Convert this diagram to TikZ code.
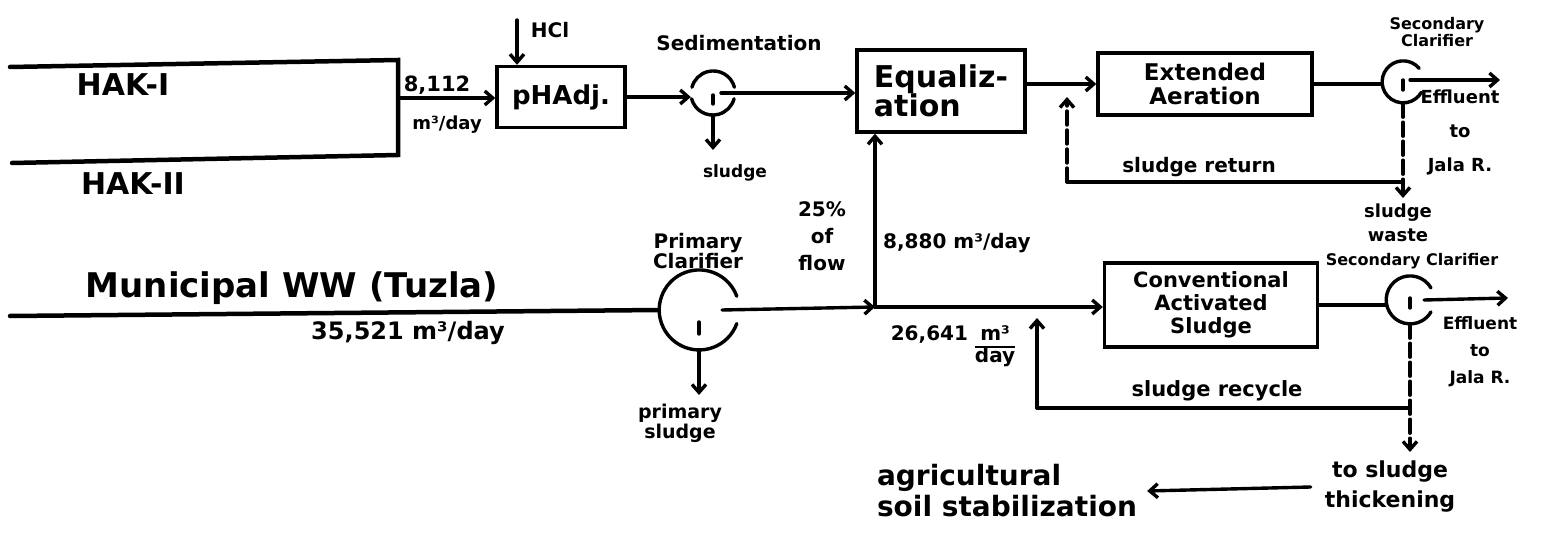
\documentclass[tikz,border=0pt]{standalone}
\usepackage{fontspec}
\setmainfont{DejaVu Sans}
\usetikzlibrary{arrows.meta,calc}
\setlength{\arrayrulewidth}{1.6pt}
\begin{document}
\begin{tikzpicture}[x=1pt,y=-1pt,
  every node/.style={inner sep=0pt},
  flow/.style={line width=3.4pt, line cap=round},
  heavy/.style={line width=4.5pt, line cap=round},
  arr/.style={-{Straight Barb[length=8pt,width=14pt]}},
  brk/.style={dash pattern=on 14pt off 5pt},
  unit/.style={draw, line width=3.4pt, align=center},
  clar/.style={circle, minimum size=#1, inner sep=0pt},
  fs/.style={font=\bfseries\fontsize{#1}{#1}\selectfont, align=center},
]
\fill[white] (0,0) rectangle (1547,537);
\useasboundingbox (0,0) rectangle (1547,537);

% ---------- units ----------
\node[unit, minimum width=128pt, minimum height=61pt, fs=26] (ph) at (561,97) {pHAdj.};
\node[clar=44pt] (sed) at (713,93) {};
\node[unit, minimum width=168pt, minimum height=82pt, fs=30, align=left] (eq) at (941,91) {Equaliz-\\[-1pt]ation};
\node[unit, minimum width=214pt, minimum height=62pt, fs=23] (ea) at (1205,84) {Extended\\[1pt]Aeration};
\node[clar=42pt] (sc1) at (1403,82) {};
\node[clar=80pt] (pc) at (699,310) {};
\node[unit, minimum width=213pt, minimum height=84pt, fs=21] (cas) at (1211,305) {Conventional\\[2pt]Activated\\[2pt]Sludge};
\node[clar=48pt] (sc2) at (1410,300) {};

% ---------- labels ----------
\node[fs=30] (hak1) at (123,85) {HAK-I};
\node[fs=30] (hak2) at (133,184) {HAK-II};
\node[fs=21] (q1) at (437,85) {8,112};
\node[fs=18] (q1u) at (447,125) {m³/day};
\node[fs=20] (hclT) at (550,30) {HCl};
\node[fs=20] (sedT) at (739,43) {Sedimentation};
\node[fs=17] (sl1) at (735,173) {sludge};
\node[fs=16] (sc1T) at (1437,32) {Secondary\\[1pt]Clarifier};
\node[fs=18] (ef1) at (1460,132) {Effluent\\[16pt]to\\[16pt]Jala R.};
\node[fs=20] (srT) at (1199,167) {sludge return};
\node[fs=34] (mun) at (292,288) {Municipal WW (Tuzla)};
\node[fs=24] (mq) at (408,333) {35,521 m³/day};
\node[fs=20] (pcT) at (698,251) {Primary\\Clarifier};
\node[fs=20] (pct) at (822,236) {25\%\\[7pt]of\\[7pt]flow};
\node[fs=20, anchor=west] (q2) at (883,243) {8,880 m³/day};
\node[fs=20] (q3) at (953,347) {26,641 \begin{tabular}[t]{@{}c@{}}m³\\\hline day\end{tabular}};
\node[fs=18] (swT) at (1398,223) {sludge\\[6pt]waste};
\node[fs=16] (sc2T) at (1412,261) {Secondary Clarifier};
\node[fs=17] (ef2) at (1480,352) {Effluent\\[10pt]to\\[10pt]Jala R.};
\node[fs=21] (srcT) at (1217,391) {sludge recycle};
\node[fs=22] (thk) at (1390,487) {to sludge\\[8pt]thickening};
\node[fs=28, align=left] (agri) at (1007,491) {agricultural\\[3pt]soil stabilization};
\node[fs=19] (psl) at (680,423) {primary\\[1pt]sludge};

% ---------- coordinates ----------
\coordinate (h1a) at (10,67);
\coordinate (h1b) at (398,60);
\coordinate (h2a) at (12,163);
\coordinate (h2b) at (398,155);
\coordinate (hb) at (398,98);
\coordinate (hcl) at (517,20);
\coordinate (sedx) at (721,93);
\coordinate (sedd) at (713,150);
\coordinate (e1s) at (1410,80);
\coordinate (eff1) at (1500,80);
\coordinate (sw1) at (1403,198);
\coordinate (sr1) at (1403,182);
\coordinate (sr2) at (1067,182);
\coordinate (sr3) at (1067,97);
\coordinate (m0) at (10,316);
\coordinate (pcx) at (722,310);
\coordinate (jn) at (875,307);
\coordinate (e2s) at (1424,300);
\coordinate (eff2) at (1508,298);
\coordinate (sr4) at (1410,408);
\coordinate (sr5) at (1037,408);
\coordinate (sr6) at (1037,318);
\coordinate (sw2) at (1410,452);
\coordinate (psa) at (699,395);

% ---------- upper train ----------
\draw[heavy] (h1a) -- (h1b) -- (h2b) -- (h2a);
\draw[flow,arr] (hb) -- (hb -| ph.west);
\draw[flow,arr] (hcl) -- (hcl |- ph.north);
\draw[flow,arr] (ph.east) -- (ph.east -| sed.west);
\draw[flow] (sed.15) arc[start angle=15,end angle=165,radius=22pt];
\draw[flow] (sed.195) arc[start angle=195,end angle=345,radius=22pt];
\draw[flow] ([yshift=-2pt]sed.center) -- ([yshift=-11pt]sed.center);
\draw[flow,arr] (sedx) -- (sedx -| eq.west);
\draw[flow,arr] (sed.south) -- (sedd);
\draw[flow,arr] (eq.east |- ea.west) -- (ea.west);
\draw[flow] (ea.east) -- (ea.east -| sc1.west);
\draw[flow] (sc1.40) arc[start angle=40,end angle=330,radius=21pt];
\draw[flow] ([yshift=2pt]sc1.center) -- ([yshift=-8pt]sc1.center);
\draw[flow,arr] (e1s) -- (eff1);
\draw[flow,brk,arr] (sc1.south) -- (sw1);
\draw[flow] (sr1) -- (sr2);
\draw[flow,brk,arr] (sr2) -- (sr3);

% ---------- lower train ----------
\draw[heavy] (m0) -- (pc.west);
\draw[flow] (pc.20) arc[start angle=20,end angle=340,radius=40pt];
\draw[flow] ([yshift=-12pt]pc.center) -- ([yshift=-24pt]pc.center);
\draw[flow,arr] (pcx) -- (jn);
\draw[flow,arr] (jn) -- (jn |- eq.south);
\draw[flow,arr] (jn) -- (jn -| cas.west);
\draw[flow] (cas.east) -- (cas.east -| sc2.west);
\draw[flow] (sc2.30) arc[start angle=30,end angle=330,radius=24pt];
\draw[flow] ([yshift=2pt]sc2.center) -- ([yshift=-8pt]sc2.center);
\draw[flow,arr] (e2s) -- (eff2);
\draw[flow,brk,arr] (sc2.south) -- (sw2);
\draw[flow] (sr4) -- (sr5);
\draw[flow,arr] (sr5) -- (sr6);
\draw[flow,arr] (pc.south) -- (psa);
\draw[flow,arr] ([xshift=-14pt]thk.west) -- ([xshift=10pt]agri.east);
\end{tikzpicture}
\end{document}
